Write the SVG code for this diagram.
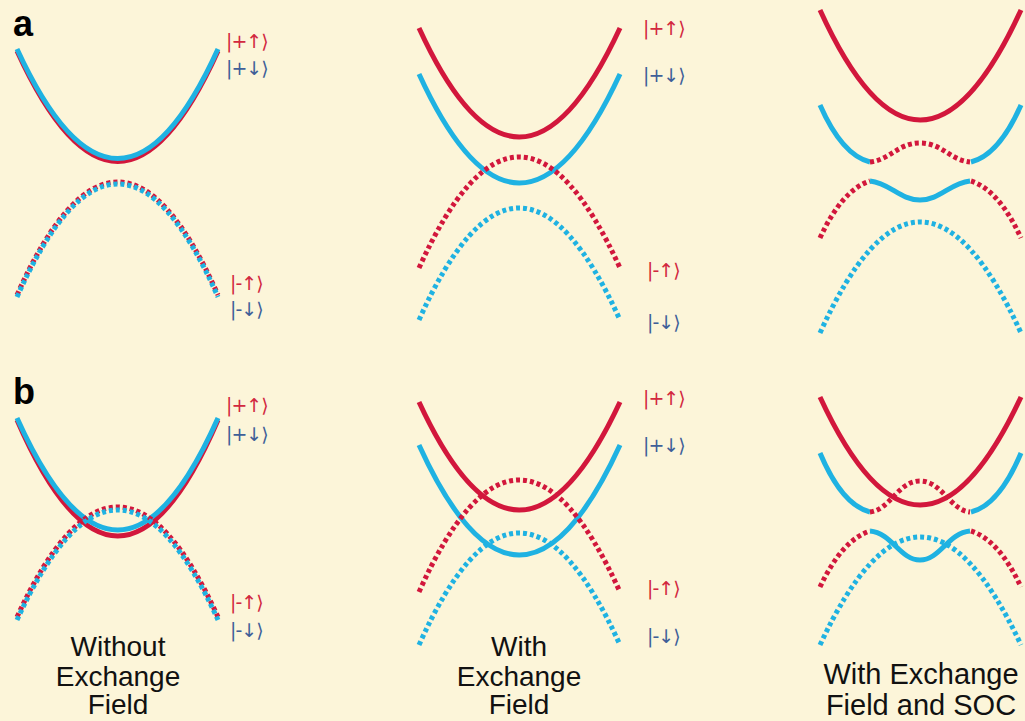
<svg xmlns="http://www.w3.org/2000/svg" width="1025" height="721" viewBox="0 0 1025 721">
<style>
.bg{fill:#fcf5d9}
.r{fill:none;stroke:#d2173c;stroke-width:5;stroke-linecap:butt}
.c{fill:none;stroke:#1fb2e2;stroke-width:5;stroke-linecap:butt}
.d{stroke-dasharray:4 3}
.lr{font-family:"DejaVu Sans",sans-serif;font-size:19px;fill:#d2283f;letter-spacing:-1px}
.lb{font-family:"DejaVu Sans",sans-serif;font-size:19px;fill:#3f5f98;letter-spacing:-1px}
.cap{font-family:"Liberation Sans",Arial,sans-serif;font-size:28px;fill:#111;text-anchor:middle}
.cap2{font-family:"Liberation Sans",Arial,sans-serif;font-size:29px;fill:#111;text-anchor:middle}
.tag{font-family:"Liberation Sans",Arial,sans-serif;font-size:36px;font-weight:bold;fill:#000}
</style>
<rect class="bg" x="0" y="0" width="1025" height="721"/>
<text class="tag" x="13" y="36">a</text>
<text class="tag" x="13" y="404">b</text>

<g id="a1">
<path class="r d" d="M17,295 Q118,69 218,295"/>
<path class="c d" d="M17,297 Q118,71 218,297"/>
<path class="r" d="M17,51 Q118,272 218,51"/>
<path class="c" d="M17,49 Q118,268 218,49"/>
<text class="lr" x="226" y="48">|+↑⟩</text>
<text class="lb" x="226" y="75">|+↓⟩</text>
<text class="lr" x="230" y="290">|-↑⟩</text>
<text class="lb" x="230" y="316">|-↓⟩</text>
</g>

<g id="a2">
<path class="r" d="M419,28 Q519,246 620,28"/>
<path class="c" d="M419,74 Q519,292 620,74"/>
<path class="r d" d="M419,268 Q519,46 620,268"/>
<path class="c d" d="M419,320 Q519,96 620,320"/>
<text class="lr" x="643" y="35">|+↑⟩</text>
<text class="lb" x="643" y="82">|+↓⟩</text>
<text class="lr" x="647" y="277">|-↑⟩</text>
<text class="lb" x="647" y="329">|-↓⟩</text>
</g>

<g id="a3">
<path class="r" d="M820,10 Q920,230 1021,10"/>
<path class="c" d="M820,105 Q842,155 870,162"/>
<path class="r d" d="M870,162 C890,160 898,143 920,143 C942,143 950,160 970,162"/>
<path class="c" d="M971,162 Q999,155 1021,105"/>
<path class="r d" d="M820,238 Q842,190 870,181"/>
<path class="c" d="M870,181 C890,183 900,200 920,200 C940,200 950,183 970,181"/>
<path class="r d" d="M971,181 Q999,190 1021,238"/>
<path class="c d" d="M820,333 Q920,111 1021,333"/>
</g>

<g id="b1">
<path class="r" d="M17,420 Q118,652 218,420"/>
<path class="c" d="M17,418 Q118,642 218,418"/>
<path class="r d" d="M17,617 Q118,397 218,617"/>
<path class="c d" d="M17,620 Q118,400 218,620"/>
<text class="lr" x="226" y="412">|+↑⟩</text>
<text class="lb" x="226" y="441">|+↓⟩</text>
<text class="lr" x="230" y="609">|-↑⟩</text>
<text class="lb" x="230" y="637">|-↓⟩</text>
<text class="cap" x="118" y="656">Without</text>
<text class="cap" x="118" y="686">Exchange</text>
<text class="cap" x="118" y="714">Field</text>
</g>

<g id="b2">
<path class="r" d="M419,402 Q519,618 620,402"/>
<path class="c" d="M419,445 Q519,665 620,445"/>
<path class="r d" d="M419,592 Q519,368 620,592"/>
<path class="c d" d="M419,645 Q519,421 620,645"/>
<text class="lr" x="643" y="405">|+↑⟩</text>
<text class="lb" x="643" y="452">|+↓⟩</text>
<text class="lr" x="647" y="595">|-↑⟩</text>
<text class="lb" x="647" y="643">|-↓⟩</text>
<text class="cap" x="519" y="656">With</text>
<text class="cap" x="519" y="686">Exchange</text>
<text class="cap" x="519" y="714">Field</text>
</g>

<g id="b3">
<path class="r" d="M820,397 Q920,613 1021,397"/>
<path class="c" d="M820,453 Q842,505 870,512"/>
<path class="r d" d="M870,512 C890,510 898,481 920,481 C942,481 950,510 970,512"/>
<path class="c" d="M971,512 Q999,505 1021,453"/>
<path class="r d" d="M820,587 Q842,540 870,531"/>
<path class="c" d="M870,531 C892,533 900,560 920,560 C940,560 948,533 970,531"/>
<path class="r d" d="M971,531 Q999,540 1021,587"/>
<path class="c d" d="M820,645 Q920,429 1021,645"/>
<text class="cap2" x="921" y="684">With Exchange</text>
<text class="cap2" x="921" y="715">Field and SOC</text>
</g>
</svg>
